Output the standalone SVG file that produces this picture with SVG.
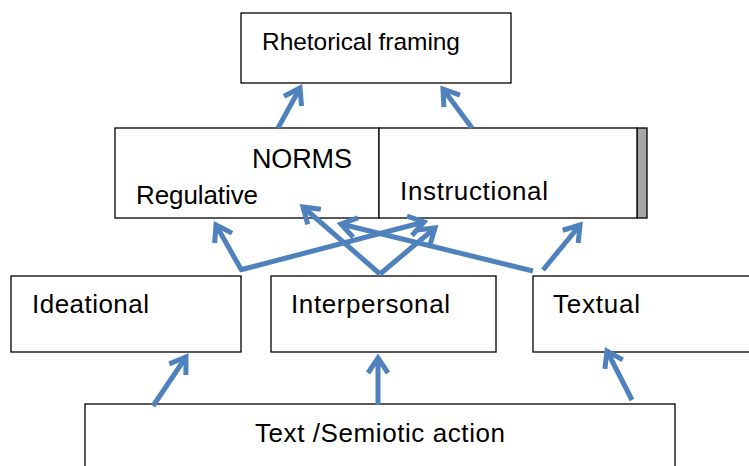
<svg xmlns="http://www.w3.org/2000/svg" width="749" height="466" viewBox="0 0 749 466">
<style>
.box{fill:#fff;stroke:#000;stroke-width:1.3}
.t{font-family:"Liberation Sans",Arial,sans-serif;font-size:26px;fill:#000}
.c line{stroke:#4f81bd;stroke-width:5;stroke-linecap:butt;marker-end:url(#ah)}
</style>
<defs>
<marker id="ah" markerUnits="userSpaceOnUse" markerWidth="40" markerHeight="40" refX="0" refY="0" viewBox="-20 -20 40 40" orient="auto" overflow="visible">
<path d="M-15 -10 L0 0 L-15 10" fill="none" stroke="#4f81bd" stroke-width="5" stroke-linejoin="miter" stroke-linecap="butt"/>
</marker>
</defs>
<rect width="749" height="466" fill="#fff"/>
<g id="rhetorical"><rect class="box" x="241" y="13" width="270" height="70"/><text class="t" x="262" y="50" style="font-size:24.5px" textLength="198">Rhetorical framing</text></g>
<g id="norms"><rect class="box" x="115" y="128" width="264" height="90"/><text class="t" x="252" y="168" style="font-size:27px" textLength="100">NORMS</text><text class="t" x="136" y="204" textLength="122">Regulative</text></g>
<g id="instructional"><rect x="637" y="128" width="10" height="90" fill="#a6a6a6" stroke="#000" stroke-width="1.3"/><rect class="box" x="379" y="128" width="258" height="90"/><text class="t" x="400" y="200" textLength="148">Instructional</text></g>
<g id="ideational"><rect class="box" x="11" y="276" width="230" height="76"/><text class="t" x="32" y="313" textLength="117">Ideational</text></g>
<g id="interpersonal"><rect class="box" x="271" y="276" width="225" height="76"/><text class="t" x="291" y="313" textLength="159">Interpersonal</text></g>
<g id="textual"><rect class="box" x="533" y="276" width="230" height="76"/><text class="t" x="553" y="313" textLength="87">Textual</text></g>
<g id="semiotic"><rect class="box" x="85" y="404" width="590" height="80"/><text class="t" x="255" y="442" textLength="250">Text /Semiotic action</text></g>
<g class="c" id="connectors">
<line x1="153" y1="406" x2="186" y2="357"/>
<line x1="378" y1="405" x2="378" y2="358"/>
<line x1="632" y1="400" x2="607" y2="351"/>
<line x1="278" y1="128" x2="300" y2="88"/>
<line x1="472" y1="128" x2="443" y2="89"/>
<line x1="242" y1="271" x2="216" y2="225"/>
<line x1="240" y1="270" x2="424" y2="222"/>
<line x1="380" y1="274" x2="303" y2="207"/>
<line x1="380" y1="274" x2="435" y2="228"/>
<line x1="533" y1="271" x2="341" y2="224"/>
<line x1="543" y1="270" x2="580" y2="225"/>
</g>
</svg>
